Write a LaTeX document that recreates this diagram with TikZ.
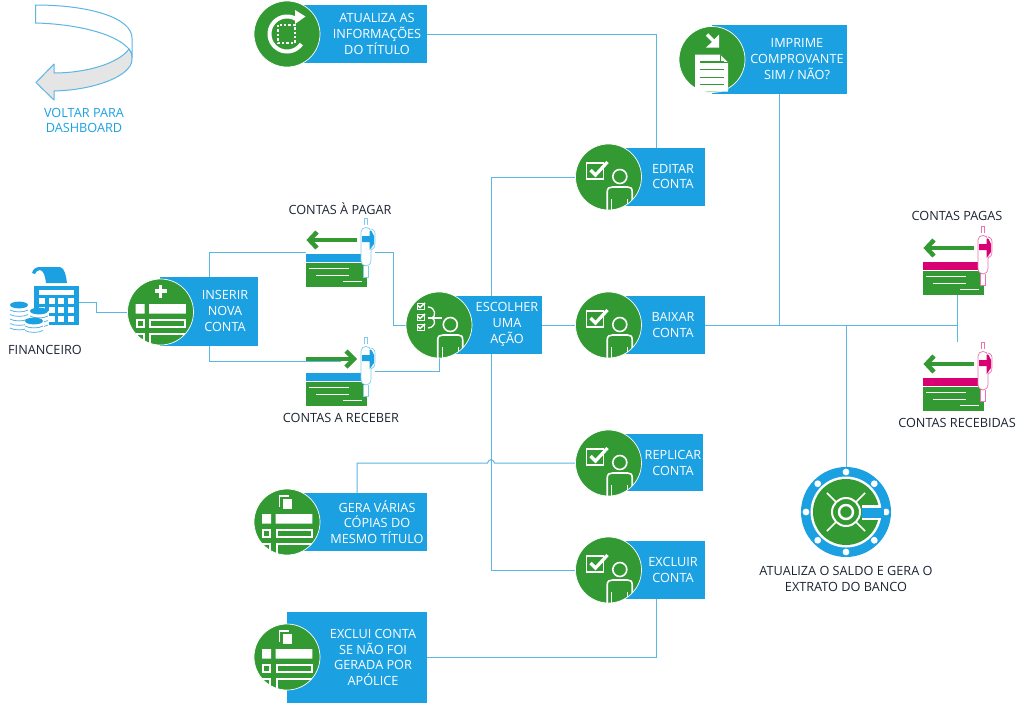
\documentclass[tikz,border=0pt]{standalone}
\usepackage{fontspec}
\setmainfont{Open Sans}
\usetikzlibrary{calc}
\pgfdeclarelayer{back}
\pgfsetlayers{back,main}
\definecolor{bl}{HTML}{1BA1E2}
\definecolor{gn}{HTML}{339933}
\definecolor{mg}{HTML}{D80073}
\definecolor{ln}{HTML}{5CB6E4}
\definecolor{ink}{HTML}{1C2433}
\tikzset{
  bx/.style={fill=bl,inner sep=0pt,minimum height=58pt},
  ci/.style={circle,fill=gn,draw=white,line width=.7pt,inner sep=0pt,minimum size=66pt},
  txt/.style={text=white,align=center,inner sep=0pt,font=\fontsize{12.7}{15.7}\selectfont},
  lab/.style={text=ink,align=center,inner sep=0pt,font=\fontsize{12.7}{15.9}\selectfont},
  con/.style={draw=ln,line width=1pt},
  chq/.style={inner sep=0pt,minimum width=69pt,minimum height=68pt},
}
% icons drawn relative to a circle node
\newcommand{\personicon}[1]{\begin{scope}[shift={(#1.center)}]
  \clip (0,0) circle (33);
  \draw[white,line width=1.6pt] (11.3,-.5) circle (7);
  \draw[white,line width=1.6pt] (-1.3,34) -- (-1.3,15) .. controls (-1.3,11) and (1,10) .. (4,10) -- (19,10) .. controls (22,10) and (23.7,11) .. (23.7,15) -- (23.7,34);
  \draw[white,line width=1pt] (3,22) -- (3,34) (19,22) -- (19,34);
\end{scope}}
\newcommand{\checkicon}[1]{\begin{scope}[shift={(#1.center)}]
  \draw[white,line width=1.6pt] (-22,-14) rectangle (-5,2);
  \draw[white,line width=3.2pt] (-18,-7) -- (-13,-2) -- (-1,-15);
\end{scope}\personicon{#1}}
\newcommand{\chooseicon}[1]{\begin{scope}[shift={(#1.center)}]
  \foreach \yy in {-22,-11,-1}{
    \draw[white,line width=.9pt] (-22,\yy) rectangle (-15,\yy+6);
    \draw[white,line width=1.5pt] (-21,\yy+2.5) -- (-19,\yy+4.5) -- (-14,\yy);
  }
  \draw[white,line width=1.3pt] (-11,-18) .. controls (-3,-18) and (-3,-8) .. (-7,-7) .. controls (-3,-5) and (-3,2) .. (-11,3);
  \draw[white,line width=1.3pt] (-11,-7) -- (3,-7);
\end{scope}\personicon{#1}}
\newcommand{\tableicon}[1]{\begin{scope}[shift={(#1.center)}]
  \clip (0,0) circle (33);
  \fill[white] (-25,-8) rectangle (-16,1.7) (-11.3,-8) rectangle (25.3,1.7);
  \draw[white,line width=2pt] (-24,7.5) rectangle (-17,14.5) (-10.5,7.5) rectangle (24.5,14.5);
  \draw[white,line width=2pt] (-24,21.5) rectangle (-17,40) (-10.5,21.5) rectangle (24.5,40);
\end{scope}}
\newcommand{\copyicon}[1]{\begin{scope}[shift={(#1.center)}]
  \draw[white,line width=1.5pt] (-7.5,-15) -- (-7.5,-26) -- (2,-26);
  \fill[white] (-4.5,-23) rectangle (5,-13.5);
\end{scope}}
\newcommand{\chequeicon}[5]{% dx dy colour direction name
  \node[chq] (#5) at (340.5+#1,252+#2) {};
  \begin{scope}[shift={(#1,#2)}]
    \ifnum#4=0
      \draw[gn,line width=4.5pt] (357,240) -- (309,240);
      \draw[gn,line width=4.5pt] (317,232) -- (309.5,240) -- (317,248);
    \else
      \draw[gn,line width=4.5pt] (306,240) -- (354,240);
      \draw[gn,line width=4.5pt] (346,232) -- (354,240) -- (346,248);
    \fi
    \fill[#3] (306,254) rectangle (361,262);
    \fill[gn] (306,263) rectangle (367,287);
    \draw[white,line width=.9pt] (309,268) -- (349,268) (316,275) -- (349,275) (343,281) -- (362,281);
    \draw[#3!55!white,line width=.7pt,fill=white] (364.5,225) -- (364.5,218) -- (367.5,218) -- (367.5,225);
    \draw[#3!55!white,line width=.7pt,fill=white] (363.5,266) -- (363.5,277) -- (368,277) -- (368,266);
    \draw[#3!55!white,line width=.7pt,fill=white] (361,232) .. controls (361,226) and (371,226) .. (371,232) -- (371,260) .. controls (371,268) and (361,268) .. (361,260) -- cycle;
    \draw[#3!55!white,line width=.7pt] (371,229) .. controls (375,230) and (375,232) .. (375,236) -- (375,243) .. controls (375,248) and (373,249) .. (371,250);
    \fill[#3] (362,236) -- (374,236) -- (374,244) -- (369.5,250) -- (369.5,242) -- (362,242) -- cycle;
    \fill[#3] (369.5,231) -- (371.5,231) -- (374,236) -- (369.5,236) -- cycle;
  \end{scope}}
\newcommand{\coins}[3]{\begin{scope}[shift={(#1,#2)}]
  \fill[white] (-9.5,0) rectangle (9.5,#3+1);
  \foreach \yy in {5,9.5,...,#3}{
    \draw[ln,line width=.8pt] (-9,\yy) .. controls (-5,\yy+2.5) and (5,\yy+2.5) .. (9,\yy);
  }
  \fill[bl] (0,0) ellipse (9 and 3.4);
\end{scope}}
\begin{document}
\begin{tikzpicture}[x=1pt,y=-1pt]
\useasboundingbox (0,0) rectangle (1024,705);

% back arrow
\node[inner sep=0pt,text=bl,align=center,font=\fontsize{12.7}{15.3}\selectfont] (voltar) at (84,120.5) {VOLTAR PARA\\DASHBOARD};
\draw[ln,line width=1pt,fill=white,line join=round] (35.5,5) .. controls (90,5) and (132,18) .. (132,38) -- (132,58) .. controls (132,54) and (131,51) .. (129,49) .. controls (115,33) and (75,24) .. (35.5,23) -- cycle;
\draw[ln,line width=1pt,fill=black!10,line join=round] (129,49) .. controls (132,53) and (132,56) .. (132,60) .. controls (131,76) and (95,90) .. (54,91) -- (54,100) -- (36,82.5) -- (54,64) -- (54,73) .. controls (85,73) and (118,64) .. (129,49) -- cycle;

% financeiro
\node[inner sep=0pt,fill=bl,minimum width=45pt,minimum height=39.5pt] (calc) at (56.5,305.7) {};
\fill[bl] (32,273) .. controls (33,269) and (36,267) .. (40,267) -- (60,267) .. controls (65,268) and (66,276) .. (67,283) -- (46,283) .. controls (45,276) and (44,271) .. (40,270) .. controls (37,270) and (36,272) .. (35,274) -- cycle;
\fill[white] (39,290) rectangle (74,295);
\foreach \xx in {39,48.5,58,68}{\foreach \yy in {298,307,316}{\fill[white] (\xx,\yy) rectangle (\xx+6.2,\yy+6.2);}}
\coins{19}{305}{25}
\coins{39}{311}{16}
\coins{34}{321}{13}
\node[lab] (fin) at (45,350) {FINANCEIRO};

% boxes
\node[bx,minimum width=127pt] (atu) at (363.5,34) {};
\node[bx,minimum width=135pt,minimum height=69pt] (imp) at (779.5,59.5) {};
\node[bx,minimum width=98pt] (edit) at (656,177) {};
\node[bx,minimum width=98pt] (baix) at (656,325) {};
\node[bx,minimum width=102pt] (esc) at (491,325) {};
\node[bx,minimum width=98pt,minimum height=69pt] (ins) at (209,311.5) {};
\node[bx,minimum width=96pt,minimum height=57pt] (repl) at (655,462.5) {};
\node[bx,minimum width=98pt] (excl) at (656,570) {};
\node[bx,minimum width=132pt] (gera) at (361,522) {};
\node[bx,minimum width=140pt,minimum height=91pt] (exc) at (357,657.5) {};

% circles
\node[ci] (atuC) at (287,34) {};
\node[ci] (impC) at (712,59.5) {};
\node[ci] (editC) at (608.5,177) {};
\node[ci] (baixC) at (608.5,325) {};
\node[ci] (escC) at (439,325) {};
\node[ci] (insC) at (160.5,312) {};
\node[ci] (replC) at (608.5,463) {};
\node[ci] (exclC) at (608.5,570) {};
\node[ci] (geraC) at (287,522) {};
\node[ci] (excC) at (287,657) {};

% icons
\checkicon{editC}\checkicon{baixC}\checkicon{replC}\checkicon{exclC}
\chooseicon{escC}
\tableicon{insC}\tableicon{geraC}\tableicon{excC}
\copyicon{geraC}\copyicon{excC}
\begin{scope}[shift={(insC.center)}]
  \draw[white,line width=3.8pt] (-6,-20.7) -- (6,-20.7) (0,-27) -- (0,-14.5);
\end{scope}
\begin{scope}[shift={(atuC.center)}]
  \draw[white,line width=4pt] plot[domain=35:300,samples=50] ({17.5*cos(\x)},{17.5*sin(\x)});
  \fill[white] (8,-24) -- (18.5,-17.5) -- (8,-10) -- cycle;
  \draw[white,line width=1.6pt,dash pattern=on 2.4pt off 2pt] (-9,-9) rectangle (8,9);
\end{scope}
\begin{scope}[shift={(impC.center)}]
  \draw[white,line width=3.4pt] (-5,-25) -- (5,-15);
  \fill[white] (7,-25) -- (7,-12) -- (-6,-12) -- (-1,-16.5) -- (2.5,-20.5) -- cycle;
  \fill[white] (-17,-5) -- (8,-5) -- (16,3) -- (16,32) -- (-17,32) -- cycle;
  \draw[gn,line width=.8pt] (8,-5) -- (8,3) -- (16,3);
  \draw[gn,line width=1.3pt] (-12.5,2.5) -- (12,2.5) (-12.5,10) -- (12,10) (-12.5,17.7) -- (12,17.7) (-12.5,25) -- (12,25);
\end{scope}

% cheques
\chequeicon{0}{0}{bl}{0}{pagar}
\chequeicon{0}{119}{bl}{1}{receber}
\chequeicon{617}{8}{mg}{0}{pagas}
\chequeicon{617}{124}{mg}{0}{recebidas}

% safe
\node[circle,fill=bl,inner sep=0pt,minimum size=90pt] (safe) at (846,512) {};
\fill[white] (safe.center) circle (35.5);
\fill[gn] (safe.center) circle (33);
\foreach \a in {0,45,...,315}{\fill[white] ($(safe.center)+(\a:40)$) circle (3.4);}
\fill[white] (862,505) rectangle (881,520);
\fill[bl] (862,507.5) rectangle (884,517.5);
\begin{scope}[shift={(safe.center)}]
  \draw[white,line width=2pt] (0,0) circle (14);
  \draw[white,line width=2.4pt] (0,0) circle (7);
  \foreach \a in {45,135,225,315}{\draw[white,line width=1.6pt] (\a:14) -- (\a:27);}
\end{scope}

% box texts
\node[txt] (tAtu) at (377,34) {ATUALIZA AS\\INFORMAÇÕES\\DO TÍTULO};
\node[txt] (tImp) at (797,59) {IMPRIME\\COMPROVANTE\\SIM / NÃO?};
\node[txt] (tEdit) at (673,176.5) {EDITAR\\CONTA};
\node[txt] (tBaix) at (673,325) {BAIXAR\\CONTA};
\node[txt] (tEsc) at (507,324.5) {ESCOLHER\\UMA\\AÇÃO};
\node[txt] (tIns) at (225,311) {INSERIR\\NOVA\\CONTA};
\node[txt] (tRepl) at (673,463) {REPLICAR\\CONTA};
\node[txt] (tExcl) at (673,570) {EXCLUIR\\CONTA};
\node[txt] (tGera) at (377,522) {GERA VÁRIAS\\CÓPIAS DO\\MESMO TÍTULO};
\node[txt] (tExc) at (373,657.5) {EXCLUI CONTA\\SE NÃO FOI\\GERADA POR\\APÓLICE};

% outside labels
\node[lab] (lPagar) at (340,209) {CONTAS À PAGAR};
\node[lab] (lReceber) at (341,418) {CONTAS A RECEBER};
\node[lab] (lPagas) at (957,216) {CONTAS PAGAS};
\node[lab] (lRecebidas) at (957,423) {CONTAS RECEBIDAS};
\node[lab] (lSafe) at (846,579) {ATUALIZA O SALDO E GERA O\\EXTRATO DO BANCO};

% connector over the arrow of the cheque
\draw[con] (ins.south) |- ([yshift=10pt]receber.center);

% connectors behind
\begin{pgfonlayer}{back}
  \coordinate (jump) at (esc.center |- replC.west);
  \draw[con] ([yshift=3pt]calc.east) -- ++(17,0) |- (insC.west);
  \draw[con] (ins.north) |- (pagar.west);
  \draw[con] (pagar.east) -- ++(18,0) |- (escC.west);
  \draw[con] (receber.east) -| (escC.south);
  \draw[con] (editC.west) -- (esc.center |- editC.west) -- (esc.center |- exclC.west) -- (exclC.west);
  \draw[con] (esc.east) -- (baixC.west);
  \draw[con] ([xshift=-4pt]gera.north) |- ([xshift=-3.5pt]jump) .. controls ([xshift=-2pt,yshift=4.5pt]jump) and ([xshift=2pt,yshift=4.5pt]jump) .. ([xshift=3.5pt]jump) -- (replC.west);
  \draw[con] (atu.east) -| (edit.north);
  \draw[con] (excl.south) |- (exc.east);
  \draw[con] (baix.east) -- (baix.east -| pagas.south);
  \draw[con] (imp.south) -- (imp.south |- baix.east);
  \draw[con] (safe.north |- baix.east) -- (safe.north);
  \draw[con] (pagas.south) -- (recebidas.north);
\end{pgfonlayer}
\end{tikzpicture}
\end{document}
